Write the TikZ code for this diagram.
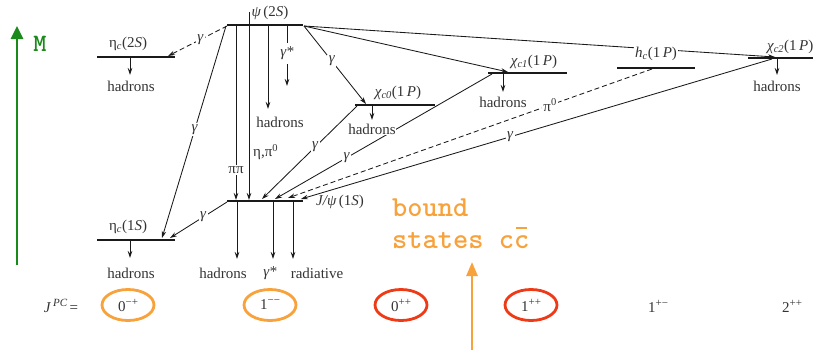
\documentclass[tikz,border=0pt]{standalone}
\usepackage{fontspec}
\setmainfont{Liberation Serif}
\usetikzlibrary{arrows.meta,shapes.geometric}
\definecolor{txt}{HTML}{333333}
\definecolor{ln}{HTML}{1A1A1A}
\definecolor{mgreen}{HTML}{1A8A1A}
\definecolor{morange}{HTML}{F8A23C}
\definecolor{mred}{HTML}{EE3A16}
\newcommand{\lsub}[1]{\textsubscript{\itshape #1}}
\newcommand{\lsup}[1]{\textsuperscript{#1}}
\newcommand{\bigsup}[1]{\raisebox{0.4em}{\fontsize{11}{11}\selectfont #1}}
\newcommand{\cbarr}{\rlap{\hspace{0.08em}\raisebox{0.64em}{\rule{0.38em}{0.075em}}}c}
\begin{document}
\begin{tikzpicture}[x=1pt,y=-1pt,
  lvl/.style={line width=2.8pt, draw=ln},
  tr/.style={line width=0.85pt, draw=ln, -{Stealth[length=7pt,width=4.5pt]}},
  trd/.style={tr, dash pattern=on 5pt off 3pt},
  lab/.style={font=\fontsize{15}{15}\selectfont, text=txt, inner sep=0pt},
  onl/.style={lab, fill=white, inner sep=1.5pt},
  jpc/.style={font=\fontsize{15}{15}\selectfont, text=txt, inner sep=0pt},
  ring/.style={jpc, ellipse, line width=2.8pt, minimum width=52pt, minimum height=31pt},
  bigmono/.style={anchor=base west, font=\ttfamily\bfseries\fontsize{29}{29}\selectfont, text=morange, inner sep=0pt}
]
\useasboundingbox (0,0) rectangle (813,349);

% level coordinates
\coordinate (pL) at (227,25);  \coordinate (pR) at (303,25);
\coordinate (e2L) at (97,57);  \coordinate (e2R) at (175,57);
\coordinate (c0L) at (355,105); \coordinate (c0R) at (435,105);
\coordinate (c1L) at (488,73); \coordinate (c1R) at (567,73);
\coordinate (hL) at (617,68);  \coordinate (hR) at (695,68);
\coordinate (c2L) at (748,58); \coordinate (c2R) at (830,58);
\coordinate (jL) at (227,201); \coordinate (jR) at (303,201);
\coordinate (e1L) at (97,240); \coordinate (e1R) at (175,240);

\foreach \a/\b in {pL/pR,e2L/e2R,c0L/c0R,c1L/c1R,hL/hR,c2L/c2R,jL/jR,e1L/e1R}
  \draw[lvl] (\a) -- (\b);

% transition endpoints
\coordinate (t1a) at (227,26);  \coordinate (t1b) at (168,56);
\coordinate (t2a) at (226,26);  \coordinate (t2b) at (162,238);
\coordinate (t3a) at (236,25);  \coordinate (t3b) at (236,200);
\coordinate (t4a) at (249,12);  \coordinate (t4b) at (249,200);
\coordinate (t5a) at (268,25);  \coordinate (t5b) at (268,109);
\coordinate (t6a) at (287,25);  \coordinate (t6b) at (287,86);
\coordinate (t7a) at (304,26);  \coordinate (t7b) at (366,104);
\coordinate (t8a) at (304,26);  \coordinate (t8b) at (508,72);
\coordinate (t9a) at (304,26);  \coordinate (t9b) at (775,57);
\coordinate (u1a) at (357,106); \coordinate (u1b) at (262,199);
\coordinate (u2a) at (492,74);  \coordinate (u2b) at (275,199);
\coordinate (u3a) at (652,69);  \coordinate (u3b) at (288,198);
\coordinate (u4a) at (772,59);  \coordinate (u4b) at (301,199);
\coordinate (u5a) at (227,202); \coordinate (u5b) at (170,238);
\coordinate (d1a) at (237,202); \coordinate (d1b) at (237,259);
\coordinate (d2a) at (273,202); \coordinate (d2b) at (273,259);
\coordinate (d3a) at (293,202); \coordinate (d3b) at (293,259);
\coordinate (h1a) at (130,241); \coordinate (h1b) at (130,258);
\coordinate (h2a) at (130,58);  \coordinate (h2b) at (130,75);
\coordinate (h3a) at (372,106); \coordinate (h3b) at (372,120);
\coordinate (h4a) at (503,74);  \coordinate (h4b) at (503,92);
\coordinate (h5a) at (777,59);  \coordinate (h5b) at (777,75);

% transitions
\draw[trd] (t1a) -- node[onl, pos=0.45] (g1) {\itshape γ} (t1b);
\draw[tr] (t2a) -- node[onl, pos=0.49] (g2) {\itshape γ} (t2b);
\draw[tr] (t3a) -- node[onl, pos=0.83] (pp) {ππ} (t3b);
\draw[tr] (t4a) -- (t4b);
\node[lab, anchor=west] (etapi) at (253,152) {η,π\lsup{0}};
\draw[tr] (t5a) -- (t5b);
\draw[tr] (t6a) -- node[onl, pos=0.47, inner sep=4pt] (gs1) {\itshape γ*} (t6b);
\draw[tr] (t7a) -- node[onl, pos=0.45] (g3) {\itshape γ} (t7b);
\draw[tr] (t8a) -- (t8b);
\draw[tr] (t9a) -- (t9b);
\draw[tr] (u1a) -- node[onl, pos=0.44] (g4) {\itshape γ} (u1b);
\draw[tr] (u2a) -- node[onl, pos=0.67] (g5) {\itshape γ} (u2b);
\draw[trd] (u3a) -- node[onl, pos=0.28] (pi0) {π\lsup{0}} (u3b);
\draw[tr] (u4a) -- node[onl, pos=0.556] (g6) {\itshape γ} (u4b);
\draw[tr] (u5a) -- node[onl, pos=0.42] (g7) {\itshape γ} (u5b);
\foreach \a/\b in {d1a/d1b,d2a/d2b,d3a/d3b,h1a/h1b,h2a/h2b,h3a/h3b,h4a/h4b,h5a/h5b}
  \draw[tr] (\a) -- (\b);

% decay labels
\node[lab] (hd1) at (280,122) {hadrons};
\node[lab] (hd2) at (223,273) {hadrons};
\node[lab] (gs2) at (270,273) {\itshape γ*};
\node[lab] (rad) at (317,273) {radiative};
\node[lab] (hd3) at (131,273) {hadrons};
\node[lab] (hd4) at (131,86) {hadrons};
\node[onl, inner sep=0.5pt] (hd5) at (372,129) {hadrons};
\node[lab] (hd6) at (503,102) {hadrons};
\node[lab] (hd7) at (777,86) {hadrons};

% level labels
\node[lab] (lpsi) at (270,13) {{\itshape ψ}\,(2{\itshape S})};
\node[lab] (le2) at (128,44) {η\lsub{c}(2{\itshape S})};
\node[lab] (lc0) at (398,93) {{\itshape χ}\lsub{c0}(1\,{\itshape P})};
\node[lab] (lc1) at (534,62) {{\itshape χ}\lsub{c1}(1\,{\itshape P})};
\node[onl] (lh) at (656,54) {{\itshape h}\lsub{c}(1\,{\itshape P})};
\node[lab, anchor=west] (lc2) at (767,47) {{\itshape χ}\lsub{c2}(1\,{\itshape P})};
\node[lab] (lj) at (340,202) {{\itshape J/ψ}\,(1{\itshape S})};
\node[lab] (le1) at (128,227) {η\lsub{c}(1{\itshape S})};

% J^PC row
\node[jpc] (jpcl) at (61,306) {{\itshape J}\,\bigsup{\itshape PC}\,=};
\node[ring, draw=morange] (q1) at (128,305) {0\bigsup{−+}};
\node[ring, draw=morange] (q2) at (270,305) {1\bigsup{−−}};
\node[ring, draw=mred] (q3) at (401,305) {0\bigsup{++}};
\node[ring, draw=mred] (q4) at (531,305) {1\bigsup{++}};
\node[jpc] (q5) at (658,306) {1\bigsup{+−}};
\node[jpc] (q6) at (792,306) {2\bigsup{++}};

% mass axis
\coordinate (ma) at (17,265); \coordinate (mb) at (17,26);
\draw[mgreen, line width=2.6pt, -{Triangle[length=13pt,width=12pt]}] (ma) -- (mb);
\node[font=\ttfamily\bfseries\fontsize{25}{25}\selectfont, text=mgreen, inner sep=0pt] (mlab) at (40,44) {M};

% bound states
\node[bigmono] (b1) at (392,216) {bound};
\node[bigmono] (b2) at (392,248) {states c\cbarr};
\coordinate (oa) at (472,352); \coordinate (ob) at (472,262);
\draw[morange, line width=2.6pt, -{Triangle[length=14pt,width=11pt]}] (oa) -- (ob);
\end{tikzpicture}
\end{document}
